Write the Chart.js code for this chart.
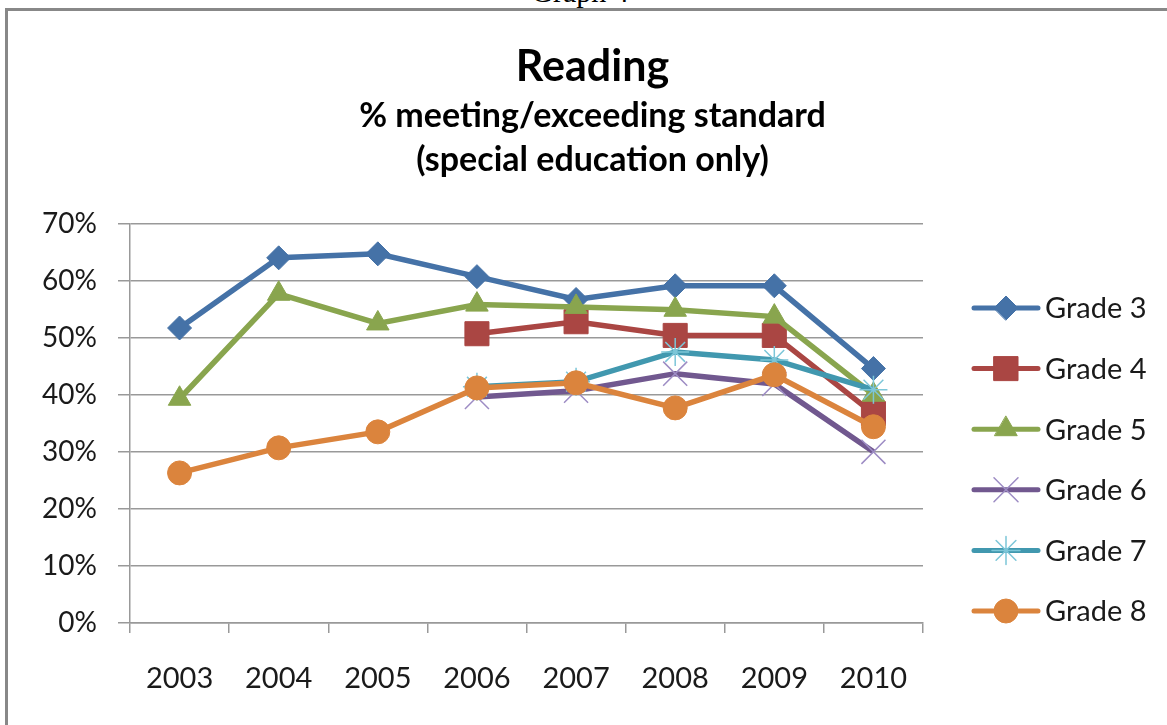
<!DOCTYPE html>
<html>
<head>
<meta charset="utf-8">
<script src="https://cdn.jsdelivr.net/npm/chart.js@4"></script>
<style>
  body { margin: 0; background: #fff; overflow: hidden; }
  #wrap { position: relative; width: 1167px; height: 725px; }
  #frame { position: absolute; left: 5px; top: 8px; width: 1200px; height: 800px;
           border-left: 3px solid #888; border-top: 3px solid #888; }
  #caption { position: absolute; left: 480px; width: 200px; top: -25px; text-align: center;
             font: 30px "Liberation Serif", serif; color: #000; }
  canvas { position: absolute; left: 0; top: 0; }
</style>
</head>
<body>
<div id="wrap">
  <div id="caption">Graph 4</div>
  <div id="frame"></div>
  <canvas id="chart" width="1167" height="725"></canvas>
</div>
<script>
// 📅 Categories and values (% meeting/exceeding standard)
const years = ['2003', '2004', '2005', '2006', '2007', '2008', '2009', '2010'];
const grade3 = [51.7, 64.0, 64.7, 60.7, 56.7, 59.1, 59.1, 44.6];
const grade4 = [null, null, null, 50.7, 52.8, 50.4, 50.4, 36.7];
const grade5 = [39.3, 57.7, 52.5, 55.8, 55.4, 54.9, 53.7, 40.0];
const grade6 = [null, null, null, 39.6, 40.7, 43.7, 41.9, 30.0];
const grade7 = [null, null, null, 41.4, 42.3, 47.5, 46.1, 40.9];
const grade8 = [26.3, 30.7, 33.5, 41.2, 42.1, 37.7, 43.5, 34.4];
const yTicks = [0, 10, 20, 30, 40, 50, 60, 70];

const FONT = 'Lato, Carlito, Calibri, sans-serif';

function series(label, data, color, style, radius, markerColor, markerWidth, order) {
  return {
    label, data, order,
    borderColor: color,
    backgroundColor: color,
    borderWidth: 5.5,
    pointStyle: style,
    pointRadius: radius,
    pointHoverRadius: radius,
    pointBackgroundColor: color,
    pointBorderColor: markerColor || color,
    pointBorderWidth: markerWidth || 1,
    tension: 0
  };
}

// 🏷️ Legend drawn beside the plot: line + marker + text
const sideLegend = {
  id: 'sideLegend',
  afterDraw(chart) {
    const ctx = chart.ctx;
    chart.data.datasets.forEach((ds, i) => {
      const y = 308 + i * 60.6;
      ctx.save();
      ctx.strokeStyle = ds.borderColor;
      ctx.lineWidth = 5;
      ctx.lineCap = 'round';
      ctx.beginPath();
      ctx.moveTo(974, y);
      ctx.lineTo(1038, y);
      ctx.stroke();
      ctx.fillStyle = ds.pointBackgroundColor;
      ctx.strokeStyle = ds.pointBorderColor;
      ctx.lineWidth = ds.pointBorderWidth;
      Chart.helpers.drawPoint(ctx, {
        pointStyle: ds.pointStyle, radius: ds.pointRadius, rotation: 0, borderWidth: ds.pointBorderWidth
      }, 1006, y);
      ctx.fillStyle = '#1a1a1a';
      ctx.font = '29px ' + FONT;
      ctx.textBaseline = 'middle';
      ctx.fillText(ds.label, 1045, y + 1);
      ctx.restore();
    });
  }
};

new Chart(document.getElementById('chart'), {
  type: 'line',
  data: {
    labels: years,
    datasets: [
      series('Grade 3', grade3, '#4572A7', 'rectRot', 12, null, 1, 6),
      series('Grade 4', grade4, '#AA4643', 'rect', 17, null, 1, 5),
      series('Grade 5', grade5, '#89A54E', 'triangle', 13, null, 1, 4),
      series('Grade 6', grade6, '#71588F', 'crossRot', 17, '#9d8cc4', 1.5, 3),
      series('Grade 7', grade7, '#4198AF', 'star', 14, '#7cc6d8', 1.5, 2),
      series('Grade 8', grade8, '#DB843D', 'circle', 12, null, 1, 1)
    ]
  },
  options: {
    responsive: false,
    animation: false,
    layout: { padding: { top: 0, left: 18, right: 0, bottom: 0 } },
    plugins: {
      legend: { display: false },
      tooltip: { enabled: false },
      title: {
        display: true,
        text: 'Reading',
        color: '#000',
        font: { family: FONT, size: 43, weight: 'bold', lineHeight: 1.2 },
        padding: { top: 41, bottom: 1 }
      },
      subtitle: {
        display: true,
        text: ['% meeting/exceeding standard', '(special education only)'],
        color: '#000',
        font: { family: FONT, size: 34, weight: 'bold', lineHeight: 1.294 },
        padding: { top: 0, bottom: 42 }
      }
    },
    scales: {
      x: {
        offset: true,
        afterFit: axis => { axis.height = 102; },
        grid: { offset: true, drawOnChartArea: false, drawTicks: true, tickLength: 10, color: '#999', lineWidth: 1.5 },
        border: { color: '#999', width: 1.5 },
        ticks: { color: '#1a1a1a', padding: 28.5, font: { family: FONT, size: 29 }, maxRotation: 0 }
      },
      y: {
        min: 0,
        max: 70,
        afterBuildTicks: axis => { axis.ticks = yTicks.map(v => ({ value: v })); },
        afterFit: axis => { axis.width = 112; },
        grid: { color: '#999', lineWidth: 1.5, tickLength: 12 },
        border: { color: '#999', width: 1.5 },
        ticks: {
          color: '#1a1a1a', padding: 21, font: { family: FONT, size: 28 },
          callback: v => v + '%'
        }
      },
      // empty right-hand axis that keeps room for the side legend
      yR: {
        position: 'right',
        afterFit: axis => { axis.width = 244; },
        grid: { display: false },
        border: { display: false },
        ticks: { display: false }
      }
    }
  },
  plugins: [sideLegend]
});
</script>
</body>
</html>
